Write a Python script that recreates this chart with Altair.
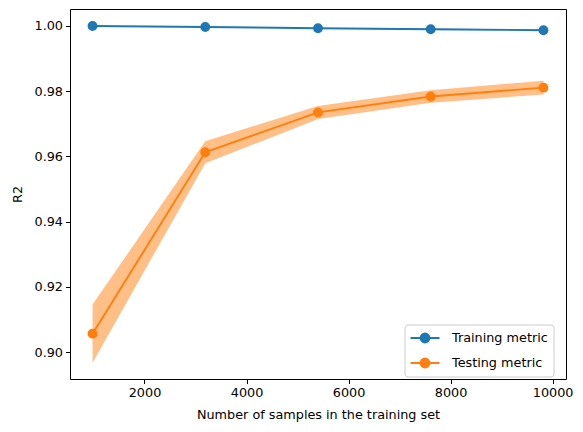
import altair as alt
import pandas as pd

# Learning-curve results: training-set sizes and mean / std of R2 scores
train_sizes = [982, 3191, 5401, 7610, 9820]
train_mean = [1.0000, 0.9997, 0.9993, 0.9990, 0.9987]
train_std = [0.00003, 0.00005, 0.0001, 0.0002, 0.0002]
test_mean = [0.9057, 0.9613, 0.9735, 0.9784, 0.9811]
test_std = [0.0089, 0.0034, 0.0020, 0.0019, 0.0021]

series_names = ["Training metric", "Testing metric"]
series_colors = ["#1f77b4", "#ff7f0e"]
band_colors = ["#8fbbd9", "#ffbf86"]

rows = []
for name, means, stds in [
    (series_names[0], train_mean, train_std),
    (series_names[1], test_mean, test_std),
]:
    for n, m, s in zip(train_sizes, means, stds):
        rows.append({"n": n, "score": m, "lo": m - s, "hi": m + s, "series": name})
df = pd.DataFrame(rows)

FONT = "DejaVu Sans"
FS = 12.8
x_scale = alt.Scale(domain=[540, 10262], nice=False, zero=False)
y_scale = alt.Scale(domain=[0.8918, 1.0052], nice=False, zero=False)
color_scale = alt.Scale(domain=series_names, range=series_colors)

x_enc = alt.X(
    "n:Q",
    scale=x_scale,
    title="Number of samples in the training set",
    axis=alt.Axis(values=[2000, 4000, 6000, 8000, 10000], format="d"),
)
y_enc = alt.Y(
    "score:Q",
    scale=y_scale,
    title="R2",
    axis=alt.Axis(values=[0.90, 0.92, 0.94, 0.96, 0.98, 1.00], format=".2f"),
)

# legend glyph: a short line with a dot in the middle
legend_symbol = "M-2,0H2M0.62,0A0.62,0.62 0 1,1 -0.62,0A0.62,0.62 0 1,1 0.62,0Z"
legend_props = dict(
    orient="none", legendX=334.5, legendY=315.5,
    title=None, symbolType=legend_symbol, symbolSize=210,
    symbolStrokeWidth=1.9, symbolOffset=7, labelOffset=18.5,
    padding=5, rowPadding=8,
    fillColor="rgba(255,255,255,0.8)", strokeColor="#cccccc",
    cornerRadius=3, labelFontSize=FS, labelFont=FONT,
    labelColor="#000000", labelLimit=200,
)

layers = []
for name, band in zip(series_names, band_colors):
    sub = alt.Chart(df).transform_filter(alt.datum.series == name)
    area = sub.mark_area(color=band, opacity=1).encode(
        x=x_enc, y=alt.Y("lo:Q", scale=y_scale), y2="hi:Q"
    )
    line = sub.mark_line(strokeWidth=1.9).encode(
        x=x_enc,
        y=y_enc,
        stroke=alt.Stroke("series:N", scale=color_scale, legend=alt.Legend(**legend_props)),
    )
    layers += [area, line]

pts = alt.Chart(df).mark_point(filled=True, size=64, opacity=1, strokeWidth=1.9).encode(
    x=x_enc,
    y=y_enc,
    fill=alt.Fill("series:N", scale=color_scale, legend=alt.Legend(**legend_props)),
    stroke=alt.Stroke("series:N", scale=color_scale, legend=alt.Legend(**legend_props)),
)
layers.append(pts)

chart = (
    alt.layer(*layers)
    .properties(width=496, height=370, padding={"left": 70, "top": 9, "right": 16, "bottom": 53})
    .configure(autosize="none", background="white")
    .configure_view(stroke="black", strokeWidth=1)
    .configure_axis(
        labelFont=FONT, titleFont=FONT, labelFontSize=FS, titleFontSize=FS,
        labelColor="black", titleColor="black", titleFontWeight="normal",
        grid=False, domain=False, tickColor="black", tickSize=4.5, tickWidth=1,
        labelPadding=3,
    )
    .configure_axisX(titlePadding=9)
    .configure_axisY(titlePadding=10)
)

chart.save("out.html", embed_options={"renderer": "svg", "actions": False})
